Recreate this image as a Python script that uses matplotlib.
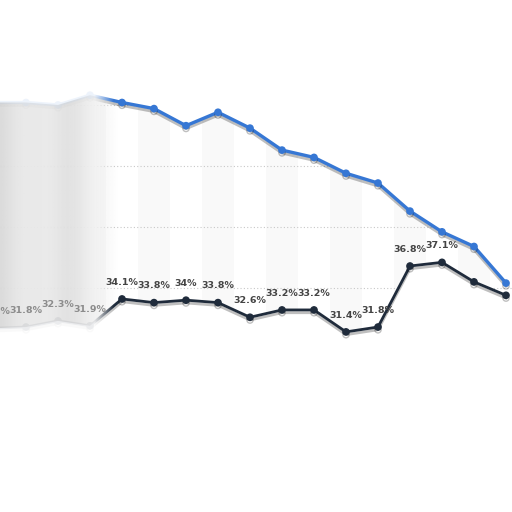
import numpy as np
import matplotlib
matplotlib.use('Agg')
import matplotlib.pyplot as plt
import matplotlib.patheffects as pe

# %% data
blue_vals = [50.2, 50.2, 50.0, 50.8, 50.2, 49.7, 48.3, 49.4, 48.1, 46.3,
             45.7, 44.4, 43.6, 41.3, 39.6, 38.4, 35.4]
dark_vals = [31.7, 31.8, 32.3, 31.9, 34.1, 33.8, 34.0, 33.8, 32.6, 33.2,
             33.2, 31.4, 31.8, 36.8, 37.1, 35.5, 34.4]
dark_labels = ['31.7%', '31.8%', '32.3%', '31.9%', '34.1%', '33.8%', '34%',
               '33.8%', '32.6%', '33.2%', '33.2%', '31.4%', '31.8%', '36.8%',
               '37.1%', '', '']
grid_vals = [30, 35, 40, 45, 50, 55]

BLUE = '#3677d4'
DARK = '#1f2b3b'

x = np.arange(len(blue_vals))
blue = np.array(blue_vals)
dark = np.array(dark_vals)

fig = plt.figure(figsize=(5.12, 5.12), dpi=100)
ax = fig.add_axes([0, 0, 1, 1])
ax.set_xlim(0.1875, 16.1875)
ax.set_ylim(16.64, 58.6)
ax.axis('off')

# alternating column bands
for i in x:
    if i % 2 == 1:
        ax.axvspan(i - 0.5, i + 0.5, color='#f9f9f9', lw=0, zorder=0)

# dotted grid
for g in grid_vals:
    ax.axhline(g, color='#c8c8c8', lw=0.8, ls=(0, (1, 2)), zorder=0.5)

# white outside the band between the two series
xe = np.r_[-1, x, x[-1] + 1]
be = np.r_[blue[0], blue, blue[-1]]
de = np.r_[dark[0], dark, dark[-1]]
ax.fill_between(xe, be, 70, color='white', lw=0, zorder=1)
ax.fill_between(xe, 0, de, color='white', lw=0, zorder=1)

shadow = [pe.SimpleLineShadow(offset=(0, -2), shadow_color='k', alpha=0.25),
          pe.Normal()]
ax.plot(x, blue, color=BLUE, lw=2.4, marker='o', ms=4.5, zorder=2,
        path_effects=shadow)
ax.plot(x, dark, color=DARK, lw=2.0, marker='o', ms=4.5, zorder=2,
        path_effects=shadow)

# faded / smudged left part
gx = np.linspace(-0.5, 4.5, 200)
gy = np.linspace(20, 58, 200)
GX, GY = np.meshgrid(gx, gy)
fade = np.clip((3.75 - GX) / 0.6, 0, 1)
white = np.zeros(GX.shape + (4,))
white[..., :3] = 1.0
white[..., 3] = 0.92 * fade
ax.imshow(white, extent=(-0.5, 4.5, 20, 58), origin='lower', aspect='auto',
          interpolation='bilinear', zorder=3)

smudge = np.zeros(GX.shape + (4,))
smudge[..., :3] = 0.6
bump = (0.16 * np.exp(-((GX - 0.1) / 0.5) ** 2)
        + 0.08 * np.exp(-((GX - 2.3) / 0.4) ** 2))
smudge[..., 3] = (0.2 + bump) * np.clip((3.9 - GX) / 1.2, 0, 1)
band = ax.fill_between(x, dark, blue, color='none', lw=0)
im = ax.imshow(smudge, extent=(-0.5, 4.5, 20, 58), origin='lower',
               aspect='auto', interpolation='bilinear', zorder=4)
im.set_clip_path(band.get_paths()[0], ax.transData)

# value labels on the dark series
for i, (v, lab) in enumerate(zip(dark, dark_labels)):
    if not lab:
        continue
    col = '#8c8c8c' if i < 4 else '#444444'
    ax.annotate(lab, (i, v), xytext=(0, 12), textcoords='offset points',
                ha='center', va='center', fontsize=6.8, fontweight='bold',
                color=col, zorder=5, annotation_clip=False)

fig.savefig('out.png', dpi=100)
